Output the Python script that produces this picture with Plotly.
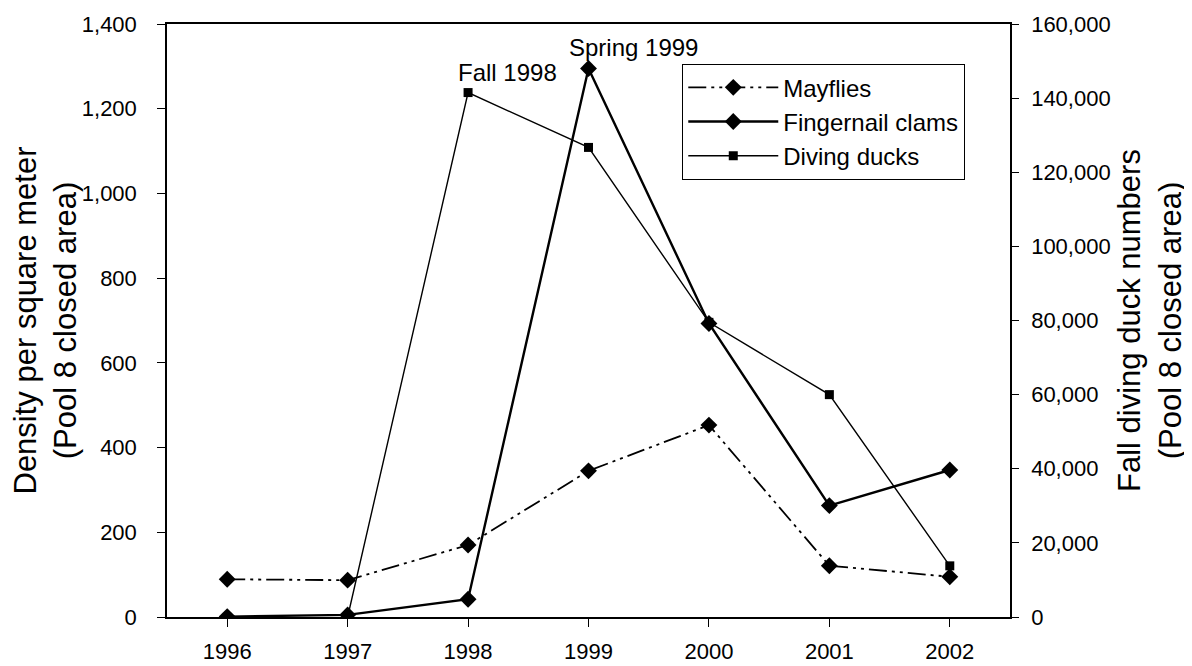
import plotly.graph_objects as go

years = [1996, 1997, 1998, 1999, 2000, 2001, 2002]
mayflies = [89, 87, 170, 345, 453, 121, 95]
fingernail_clams = [1, 5, 42, 1295, 693, 263, 347]
diving_ducks = [None, 0, 141500, 126700, 79500, 60000, 13800]

left_ticks = [0, 200, 400, 600, 800, 1000, 1200, 1400]
right_ticks = [0, 20000, 40000, 60000, 80000, 100000, 120000, 140000, 160000]

FONT = "Arial, Liberation Sans, Helvetica, sans-serif"

fig = go.Figure()
fig.add_trace(go.Scatter(
    x=years, y=mayflies, name="Mayflies", mode="lines+markers",
    line=dict(color="black", width=1.8, dash="18px,5px,3px,5px,3px,5px"),
    marker=dict(symbol="diamond", size=13, color="black"),
))
fig.add_trace(go.Scatter(
    x=years, y=fingernail_clams, name="Fingernail clams", mode="lines+markers",
    line=dict(color="black", width=2.4),
    marker=dict(symbol="diamond", size=13, color="black"),
))
fig.add_trace(go.Scatter(
    x=years, y=diving_ducks, name="Diving ducks", mode="lines+markers",
    yaxis="y2", connectgaps=False,
    line=dict(color="black", width=1.4),
    marker=dict(symbol="square", size=9, color="black"),
))

fig.add_annotation(x=1998, y=1295, text="Fall 1998", showarrow=False,
                   xref="x", yref="y", xshift=39, yshift=-4,
                   font=dict(family=FONT, size=24, color="black"))
fig.add_annotation(x=1999, y=1295, text="Spring 1999", showarrow=False,
                   xref="x", yref="y", xshift=45, yshift=21,
                   font=dict(family=FONT, size=24, color="black"))

fig.update_layout(
    width=1192, height=666,
    margin=dict(l=159, r=190, t=16, b=57),
    paper_bgcolor="white", plot_bgcolor="white",
    font=dict(family=FONT, size=22, color="black"),
    showlegend=True,
    legend=dict(
        x=0.611, y=0.9325, xanchor="left", yanchor="top",
        bordercolor="black", borderwidth=1.2, bgcolor="white",
        font=dict(family=FONT, size=24, color="black"),
        itemwidth=90, tracegroupgap=0,
    ),
    xaxis=dict(
        range=[1995.5, 2002.5], tickmode="array", tickvals=years,
        ticktext=[str(y) for y in years], automargin=False,
        showgrid=False, zeroline=False,
        showline=True, linecolor="black", linewidth=1.5, mirror=True,
        ticks="outside", ticklen=8, tickwidth=1.2, tickcolor="black",
        ticklabelstandoff=6,
        tickfont=dict(size=22),
    ),
    yaxis=dict(
        range=[0, 1400], tickmode="array", tickvals=left_ticks,
        ticktext=[f"{v:,}" for v in left_ticks], automargin=False,
        showgrid=False, zeroline=False,
        showline=True, linecolor="black", linewidth=1.5,
        ticks="outside", ticklen=8, tickwidth=1.2, tickcolor="black",
        ticklabelstandoff=16,
        tickfont=dict(size=22),
        title=dict(text="Density per square meter<br>(Pool 8 closed area)",
                   font=dict(size=31), standoff=18),
    ),
    yaxis2=dict(
        range=[0, 160000], tickmode="array", tickvals=right_ticks,
        ticktext=[f"{v:,}" for v in right_ticks], automargin=False,
        overlaying="y", side="right",
        showgrid=False, zeroline=False,
        showline=True, linecolor="black", linewidth=1.5,
        ticks="outside", ticklen=7, tickwidth=1.2, tickcolor="black",
        ticklabelstandoff=8,
        tickfont=dict(size=22),
        title=dict(text="Fall diving duck numbers<br>(Pool 8 closed area)",
                   font=dict(size=31), standoff=9),
    ),
)

fig.write_html("out.html")
